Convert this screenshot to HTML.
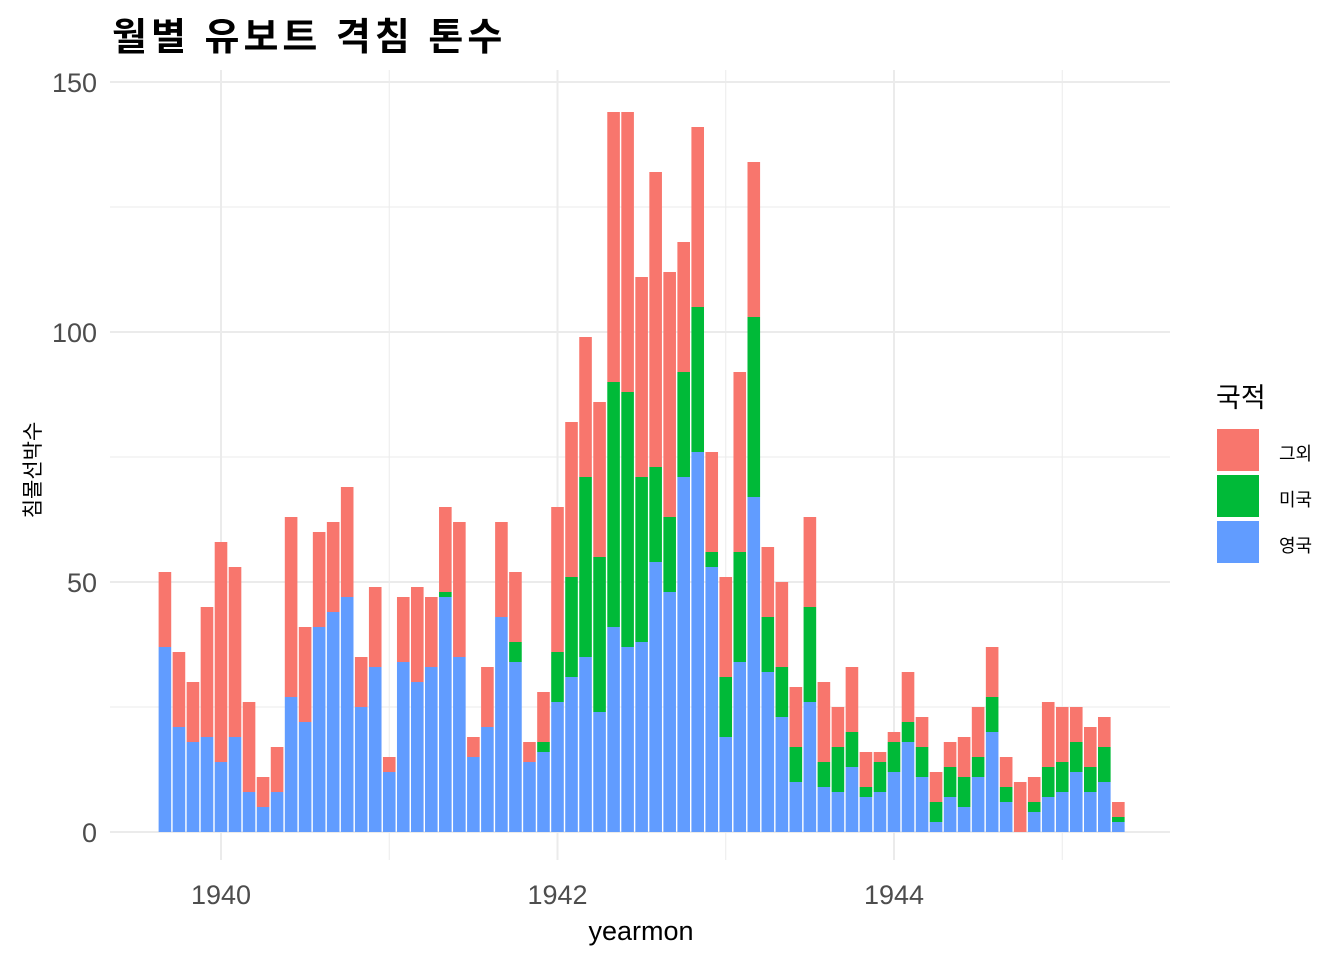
<!DOCTYPE html>
<html><head><meta charset="utf-8"><style>
html,body{margin:0;padding:0;background:#fff;}
svg text{font-family:"Liberation Sans","Noto Sans CJK KR",sans-serif;}
</style></head><body>
<svg id="chart" width="1344" height="960" xmlns="http://www.w3.org/2000/svg">
<text x="112" y="50" font-size="38" font-weight="bold" letter-spacing="4" fill="#000">월별 유보트 격침 톤수</text>
<g id="grid"></g>
<g id="bars"></g>
<g id="axes"></g>
<text x="641" y="940" font-size="27" text-anchor="middle" fill="#000">yearmon</text>
<text transform="translate(40,470) rotate(-90)" font-size="21" text-anchor="middle" fill="#000">침몰선박수</text>
<g>
<text x="1216" y="407" font-size="27" fill="#000">국적</text>
<rect x="1217" y="429" width="42" height="42" fill="#F8766D"/>
<rect x="1217" y="475" width="42" height="42" fill="#00BA38"/>
<rect x="1217" y="521" width="42" height="42" fill="#619CFF"/>
<text x="1279" y="460" font-size="18" fill="#000">그외</text>
<text x="1279" y="506" font-size="18" fill="#000">미국</text>
<text x="1279" y="552" font-size="18" fill="#000">영국</text>
</g>
</svg>
<script>
const startYear = 1939, startMonth = 9;
const ukValues = [37,21,18,19,14,19,8,5,8,27,22,41,44,47,25,33,12,34,30,33,47,35,15,21,43,34,14,16,26,31,35,24,41,37,38,54,48,71,76,53,19,34,67,32,23,10,26,9,8,13,7,8,12,18,11,2,7,5,11,20,6,0,4,7,8,12,8,10,2];
const usValues = [0,0,0,0,0,0,0,0,0,0,0,0,0,0,0,0,0,0,0,0,1,0,0,0,0,4,0,2,10,20,36,31,49,51,33,19,15,21,29,3,12,22,36,11,10,7,19,5,9,7,2,6,6,4,6,4,6,6,4,7,3,0,2,6,6,6,5,7,1];
const totalValues = [52,36,30,45,58,53,26,11,17,63,41,60,62,69,35,49,15,47,49,47,65,62,19,33,62,52,18,28,65,82,99,86,144,144,111,132,112,118,141,76,51,92,134,57,50,29,63,30,25,33,16,16,20,32,23,12,18,19,25,37,15,10,11,26,25,25,21,23,6];
const yTicks = [0,50,100,150];
const yMinor = [25,75,125];
const xTickYears = [1940,1942,1944];
const xMinorYears = [1941,1943,1945];

const NS="http://www.w3.org/2000/svg";
const x0=110,x1=1170,yTop=70,yBot=860;
const xScale = t => 221 + (t-1940)*168.25;
const yScale = v => 832 - v*5;
const monthT = i => { const m = startMonth-1+i; return startYear + Math.floor(m/12) + (m%12)/12; };
function mk(tag,attrs,parent){const e=document.createElementNS(NS,tag);for(const k in attrs)e.setAttribute(k,attrs[k]);parent.appendChild(e);return e;}
const grid=document.getElementById('grid'),bars=document.getElementById('bars'),axes=document.getElementById('axes');
yMinor.forEach(v=>{const l=mk('line',{x1:x0,x2:x1,y1:yScale(v),y2:yScale(v),stroke:'#ebebeb','stroke-width':1},grid);

});
xMinorYears.forEach(v=>{const l=mk('line',{x1:xScale(v),x2:xScale(v),y1:yTop,y2:yBot,stroke:'#ebebeb','stroke-width':1},grid);

});
yTicks.forEach(v=>{const l=mk('line',{x1:x0,x2:x1,y1:yScale(v),y2:yScale(v),stroke:'#ebebeb','stroke-width':2},grid);


const t=mk('text',{x:97,y:yScale(v)+10,'font-size':27,'text-anchor':'end',fill:'#4d4d4d'},axes);t.textContent=v;

});
xTickYears.forEach(v=>{const l=mk('line',{x1:xScale(v),x2:xScale(v),y1:yTop,y2:yBot,stroke:'#ebebeb','stroke-width':2},grid);


const t=mk('text',{x:xScale(v),y:904,'font-size':27,'text-anchor':'middle',fill:'#4d4d4d'},axes);t.textContent=v;

});
const bw=12.6;
totalValues.forEach((tot,i)=>{
  const cx=xScale(monthT(i)), uk=ukValues[i], us=usValues[i];
  const segs=[[0,uk,'#619CFF','bar-uk'],[uk,uk+us,'#00BA38','bar-us'],[uk+us,tot,'#F8766D','bar-other']];
  segs.forEach(s=>{ if(s[1]<=s[0]) return;
    const r=mk('rect',{x:cx-bw/2,y:yScale(s[1]),width:bw,height:yScale(s[0])-yScale(s[1]),fill:s[2]},bars);
    
    
  });
});
</script>
</body></html>
